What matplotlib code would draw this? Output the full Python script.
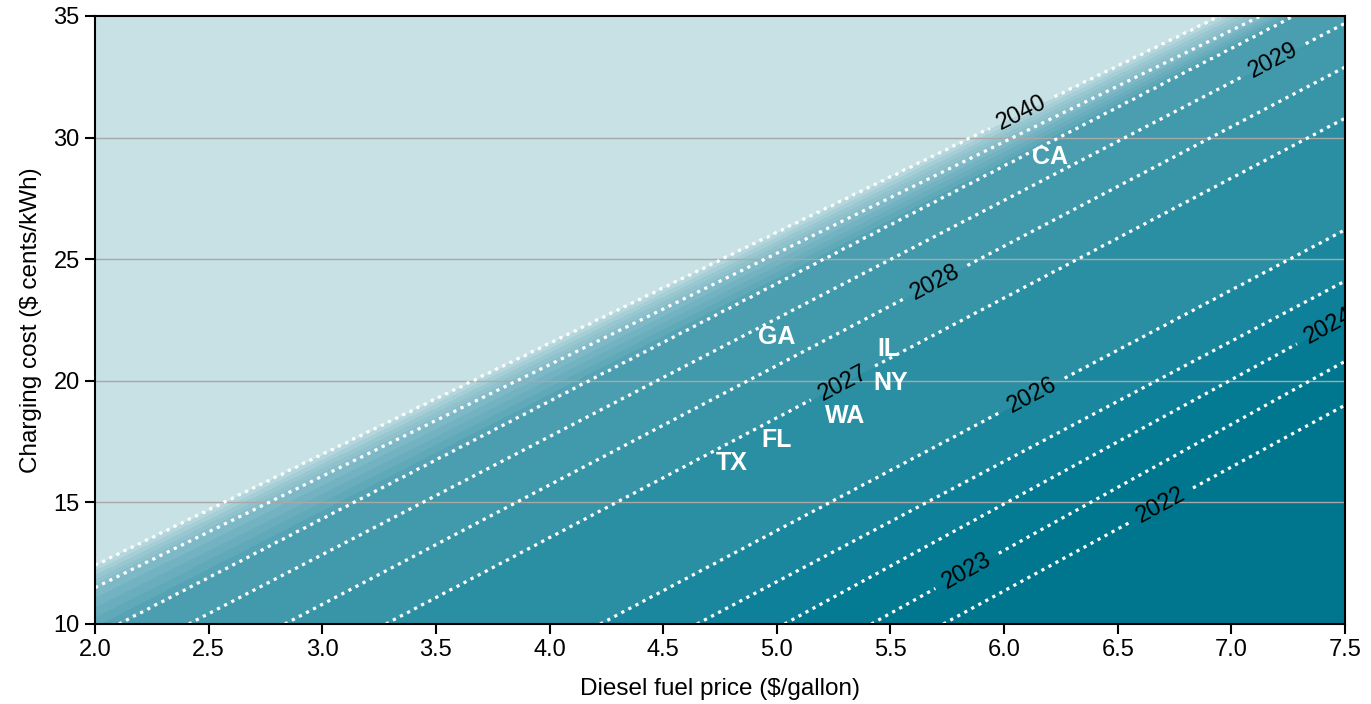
import numpy as np
import matplotlib
matplotlib.use("Agg")
import matplotlib.pyplot as plt
from matplotlib.colors import LinearSegmentedColormap

plt.rcParams['font.family'] = ['Liberation Sans', 'DejaVu Sans']

# breakeven-year contour lines, each read as charging cost at diesel $2.0 and $7.5
line_years = [2022, 2023, 2024, 2025, 2026, 2027, 2028, 2029, 2030, 2035, 2040]
cost_at_low = [-9.0, -7.7, -5.5, -3.1, -1.0, 3.7, 5.9, 8.0, 9.5, 11.5, 12.4]
cost_at_high = [19.0, 20.8, 22.6, 24.1, 26.2, 30.8, 32.9, 34.7, 36.1, 36.7, 37.5]
price_low, price_high = 2.0, 7.5

# where the line labels sit
label_price = [6.08, 7.19, 5.70, 5.28, 6.12, 7.43, 5.83, 6.69]
label_cost = [31.0, 33.1, 24.0, 20.1, 19.5, 22.2, 12.3, 14.9]

# states
states = ['CA', 'GA', 'IL', 'NY', 'WA', 'FL', 'TX']
state_price = [6.20, 5.00, 5.49, 5.50, 5.30, 5.00, 4.80]
state_cost = [29.2, 21.8, 21.3, 19.9, 18.55, 17.55, 16.6]

xticks = np.arange(2.0, 7.51, 0.5)
yticks = [10, 15, 20, 25, 30, 35]

# --- build the year field from the lines ---
xs = np.linspace(price_low, price_high, 700)
ys = np.linspace(10, 35, 600)
X, Y = np.meshgrid(xs, ys)
lo = np.array(cost_at_low)
hi = np.array(cost_at_high)
yrs = np.array(line_years, dtype=float)
Z = np.empty_like(X)
for j, xv in enumerate(xs):
    t = (xv - price_low) / (price_high - price_low)
    yk = lo + t * (hi - lo)
    col = np.interp(ys, yk, yrs)
    col = np.where(ys > yk[-1], yrs[-1] + (ys - yk[-1]) * 0.5, col)
    col = np.where(ys < yk[0], yrs[0] - (yk[0] - ys) * 0.5, col)
    Z[:, j] = col

# band colours
nodes = [(2021.5, '#00768E'), (2022.5, '#00778F'), (2023.5, '#047A93'),
         (2024.5, '#0F8099'), (2025.5, '#1A879F'), (2026.5, '#2C8FA3'),
         (2027.5, '#3895A8'), (2028.5, '#419AAC'), (2029.5, '#4A9EB0'),
         (2032.5, '#6AAEBD'), (2037.5, '#98C7D0'), (2039.5, '#B2D5DC'),
         (2041.0, '#C8E1E5')]
span = nodes[-1][0] - nodes[0][0]
cmap = LinearSegmentedColormap.from_list(
    'teal', [((y - nodes[0][0]) / span, c) for y, c in nodes])
fill_levels = [2000] + list(range(2022, 2041)) + [2100]
mids = [2021.5] + [l + 0.5 for l in range(2022, 2040)] + [2041.0]
band_colors = [cmap((m - nodes[0][0]) / span) for m in mids]

fig = plt.figure(figsize=(13.71, 7.04), dpi=100)
ax = fig.add_axes([95 / 1371, 1 - 624 / 704, 1250 / 1371, 608 / 704])

ax.contourf(X, Y, Z, levels=fill_levels, colors=band_colors, zorder=0)

for yv in yticks[1:-1]:
    ax.axhline(yv, color='#A8A8A8', lw=1, zorder=1)

cs = ax.contour(X, Y, Z, levels=line_years, colors='white', linewidths=2.3,
                linestyles=[(0, (1, 1.5))], zorder=2)
texts = ax.clabel(cs, manual=list(zip(label_price, label_cost)),
                  inline=True, inline_spacing=10, fmt='%d', fontsize=17, colors='black')
for t in texts:
    t.set_clip_on(True)

for name, px, py in zip(states, state_price, state_cost):
    ax.text(px, py, name, color='white', fontsize=18, fontweight='bold',
            ha='center', va='center', zorder=4)

ax.set_xlim(price_low, price_high)
ax.set_ylim(10, 35)
ax.set_xticks(xticks)
ax.set_xticklabels([f"{v:.1f}" for v in xticks])
ax.set_yticks(yticks)
ax.tick_params(axis='both', labelsize=17, length=7, width=1.5, direction='out',
               color='black', pad=4)
for sp in ax.spines.values():
    sp.set_linewidth(1.5)
    sp.set_color('black')
    sp.set_zorder(5)
ax.set_xlabel(r"Diesel fuel price (\$/gallon)", fontsize=17.5, labelpad=12)
ax.set_ylabel(r"Charging cost (\$ cents/kWh)", fontsize=17.5, labelpad=8)

fig.savefig('out.png', dpi=100)
